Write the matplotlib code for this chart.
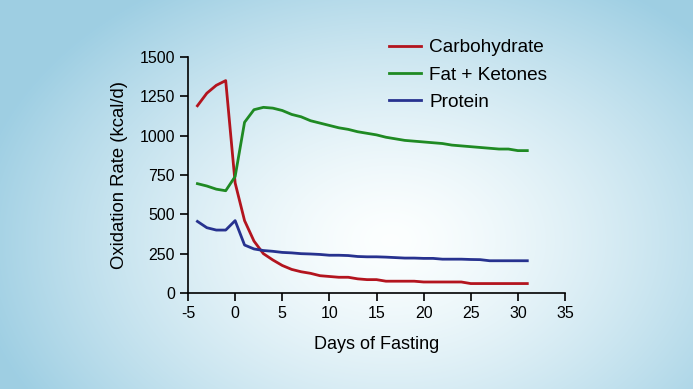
import matplotlib
matplotlib.use('Agg')
import matplotlib.pyplot as plt
import numpy as np

plt.rcParams['font.family'] = ['Liberation Sans', 'DejaVu Sans']
plt.rcParams['axes.unicode_minus'] = False

days = list(range(-4, 32))
carbohydrate = [1190, 1270, 1320, 1350, 700, 460, 330, 250, 210, 175, 150, 135, 125, 110,
                105, 100, 100, 90, 85, 85, 75, 75, 75, 75, 70, 70, 70, 70, 70, 60,
                60, 60, 60, 60, 60, 60]
fat_ketones = [695, 680, 660, 650, 740, 1085, 1165, 1180, 1175, 1160, 1135, 1120, 1095,
               1080, 1065, 1050, 1040, 1025, 1015, 1005, 990, 980, 970, 965, 960, 955,
               950, 940, 935, 930, 925, 920, 915, 915, 905, 905]
protein = [455, 415, 400, 400, 460, 305, 280, 270, 265, 258, 255, 250, 248, 245, 240,
           240, 238, 232, 230, 230, 228, 225, 222, 222, 220, 220, 215, 215, 215, 213,
           212, 205, 205, 205, 205, 205]
x_ticks = [-5, 0, 5, 10, 15, 20, 25, 30, 35]
y_ticks = [0, 250, 500, 750, 1000, 1250, 1500]

fig = plt.figure(figsize=(6.93, 3.89), dpi=100)

# radial background, white-ish centre fading to light blue
bg = fig.add_axes([0, 0, 1, 1])
yy, xx = np.mgrid[0:389, 0:693]
r = np.sqrt(((xx - 390) / 420.0) ** 2 + ((yy - 240) / 300.0) ** 2)
t = np.clip(r, 0, 1) ** 1.4
c0 = np.array([0.99, 1.0, 1.0])
c1 = np.array([0.62, 0.81, 0.89])
img = c0[None, None, :] * (1 - t[..., None]) + c1[None, None, :] * t[..., None]
bg.imshow(img, aspect='auto')
bg.axis('off')

ax = fig.add_axes([188 / 693, 1 - 293 / 389, 377 / 693, 236 / 389])
ax.patch.set_alpha(0)
ax.plot(days, carbohydrate, color='#b3141e', lw=2, label='Carbohydrate')
ax.plot(days, fat_ketones, color='#1f8a23', lw=2, label='Fat + Ketones')
ax.plot(days, protein, color='#27328f', lw=2, label='Protein')

ax.set_xlim(-5, 35)
ax.set_ylim(0, 1500)
ax.set_xticks(x_ticks)
ax.set_yticks(y_ticks)
ax.tick_params(direction='out', length=6, width=1.2, labelsize=11.5, colors='black')
for s in ['top', 'right']:
    ax.spines[s].set_visible(False)
for s in ['left', 'bottom']:
    ax.spines[s].set_linewidth(1.2)
ax.set_xlabel('Days of Fasting', fontsize=13, labelpad=11)
ax.set_ylabel('Oxidation Rate (kcal/d)', fontsize=13.3, labelpad=8)

ax.legend(loc='upper left', bbox_to_anchor=(372 / 693, 1 - 22 / 389),
          bbox_transform=fig.transFigure, frameon=False, fontsize=13.7,
          handlelength=1.7, handletextpad=0.4, labelspacing=0.52)

plt.savefig('out.png', dpi=100)
